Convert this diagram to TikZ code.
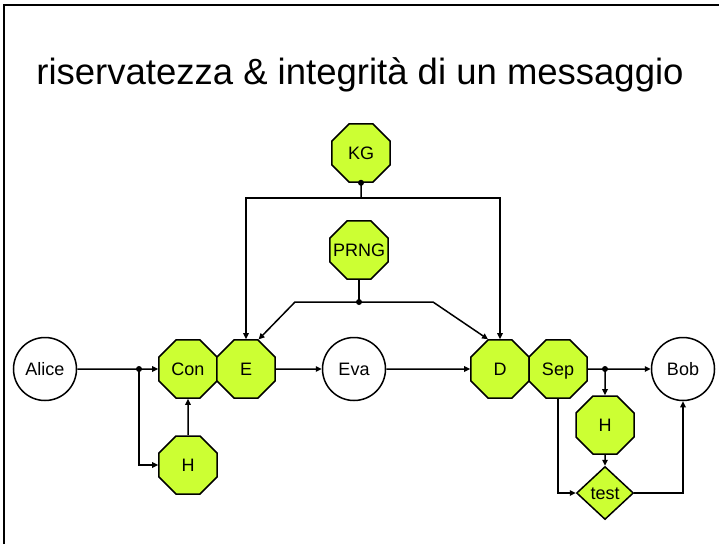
\documentclass[tikz,border=0pt]{standalone}
\usepackage{fontspec}
\setmainfont{Liberation Sans}
\usetikzlibrary{shapes.geometric,arrows.meta}
\definecolor{lime}{RGB}{204,255,51}
\begin{document}
\begin{tikzpicture}[x=1pt,y=-1pt,
  lbl/.style={font=\fontsize{18}{21}\selectfont,text height=12.9pt,text depth=0pt},
  oct/.style={lbl,regular polygon,regular polygon sides=8,minimum size=62.8pt,inner sep=0pt,
    draw,fill=lime,line width=1.5pt},
  person/.style={lbl,circle,minimum size=63pt,inner sep=0pt,draw,line width=1.5pt},
  testbox/.style={lbl,diamond,minimum width=57pt,minimum height=53pt,inner sep=0pt,
    draw,fill=lime,line width=1.5pt},
  conn/.style={line width=1.5pt,-{Triangle[length=6pt,width=5.5pt]}},
  plain/.style={line width=1.5pt},
  dot/.style={fill=black}]
\useasboundingbox (0,0) rectangle (719,544);
\draw[line width=2pt] (4,544) -- (4,5) -- (719,5);
\node[anchor=base,font=\fontsize{36.5}{42}\selectfont] (title) at (360,84) {riservatezza \& integrità di un messaggio};
% nodes
\node[person] (Alice) at (45,369) {Alice};
\node[oct] (Con) at (188,369) {Con};
\node[oct] (E) at (246,369) {E};
\node[oct] (H1) at (188,465) {H};
\node[person] (Eva) at (354,369) {Eva};
\node[oct] (D) at (500,369) {D};
\node[oct] (Sep) at (558,369) {Sep};
\node[person] (Bob) at (683,369) {Bob};
\node[oct] (H2) at (605,425) {H};
\node[testbox] (test) at (605,493) {\makebox[0pt]{test}};
\node[oct] (KG) at (361,153) {KG};
\node[oct] (PRNG) at (359,250) {\makebox[0pt]{PRNG}};
% helper coordinates
\coordinate (kgj) at (361,198);
\coordinate (prj) at (359,302);
\coordinate (pl) at (295,302);
\coordinate (pr) at (433,302);
\coordinate (aj) at (139,369);
\coordinate (sj) at (605,369);
% KG
\fill[dot] (KG.south) circle (3pt);
\draw[plain] (KG.south) -- (kgj);
\draw[conn] (kgj) -| (E.north);
\draw[conn] (kgj) -| (D.north);
% PRNG
\draw[plain] (PRNG.south) -- (prj);
\fill[dot] (prj) circle (3pt);
\draw[conn] (prj) -- (pl) -- (E.67.5);
\draw[conn] (prj) -- (pr) -- (D.112.5);
% Alice side
\draw[conn] (Alice.east) -- (Con.west);
\fill[dot] (aj) circle (3pt);
\draw[conn] (aj) |- (H1.west);
\draw[conn] (H1.north) -- (Con.south);
\draw[conn] (E.east) -- (Eva.west);
\draw[conn] (Eva.east) -- (D.west);
% Bob side
\draw[conn] (Sep.east) -- (Bob.west);
\fill[dot] (sj) circle (3pt);
\draw[conn] (sj) -- (H2.north);
\draw[conn] (H2.south) -- (test.north);
\draw[conn] (Sep.south) |- (test.west);
\draw[conn] (test.east) -| (Bob.south);
\end{tikzpicture}
\end{document}
